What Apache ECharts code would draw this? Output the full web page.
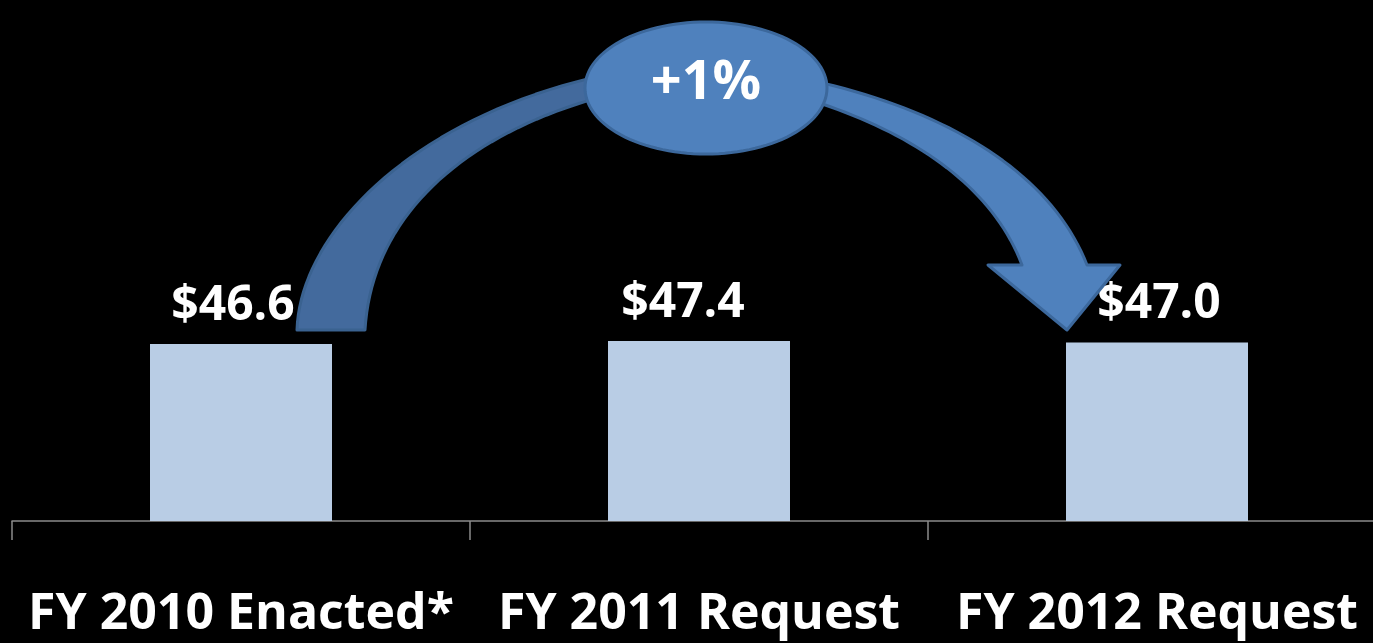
<!DOCTYPE html>
<html>
<head>
<meta charset="utf-8">
<script src="https://cdn.jsdelivr.net/npm/echarts@6/dist/echarts.min.js"></script>
<style>
html, body { margin: 0; padding: 0; background: #000; }
#chart { width: 1373px; height: 643px; }
</style>
</head>
<body>
<div id="chart"></div>
<script>
// 预算数据（十亿美元）
const categories = ['FY 2010 Enacted*', 'FY 2011 Request', 'FY 2012 Request']
const values = [46.6, 47.4, 47.0]
const changeLabel = '+1%'

// 标签水平微调（原图中标签并非完全居中）
const labelShift = [-8, -16, 2]

// 三次贝塞尔采样
function bezier(p0, p1, p2, p3, n) {
    const pts = []
    for (let i = 0; i <= n; i++) {
        const t = i / n, u = 1 - t
        pts.push([
            u*u*u*p0[0] + 3*u*u*t*p1[0] + 3*u*t*t*p2[0] + t*t*t*p3[0],
            u*u*u*p0[1] + 3*u*u*t*p1[1] + 3*u*t*t*p2[1] + t*t*t*p3[1]
        ])
    }
    return pts
}
function ellipsePts(cx, cy, rx, ry, n) {
    const pts = []
    for (let i = 0; i < n; i++) {
        const a = 2 * Math.PI * i / n
        pts.push([cx + rx * Math.cos(a), cy + ry * Math.sin(a)])
    }
    return pts
}

// 左半段弧形
const leftArc = bezier([297, 330], [300, 230], [420, 110], [620, 72], 40)
    .concat(bezier([620, 92], [470, 128], [372, 212], [365, 330], 40))
// 右半段箭头
const rightArc = bezier([790, 76], [940, 105], [1050, 170], [1087, 265], 40)
    .concat([[1120, 265], [1067, 330], [988, 265]])
    .concat(bezier([1022, 265], [990, 180], [900, 125], [790, 94], 40))

const chart = echarts.init(document.getElementById('chart'))

const option = {
    backgroundColor: '#000',
    animation: false,
    grid: {
        left: 12,
        right: -13,
        top: 141,
        bottom: 122,
        containLabel: false,
        outerBoundsMode: 'none'
    },
    xAxis: {
        type: 'category',
        data: categories,
        axisLine: { show: true, lineStyle: { color: '#8a8a8a', width: 1.5 } },
        axisTick: { show: true, length: 19, lineStyle: { color: '#8a8a8a', width: 1.5 } },
        axisLabel: {
            color: '#fff',
            fontFamily: 'Open Sans',
            fontWeight: 'bold',
            fontSize: 50,
            lineHeight: 50,
            margin: 69,
            interval: 0
        }
    },
    yAxis: {
        type: 'value',
        min: 0,
        max: 100,
        show: false
    },
    series: [{
        type: 'bar',
        data: values.map((v, i) => ({ value: v, label: { offset: [labelShift[i], 0] } })),
        barWidth: 182,
        itemStyle: { color: '#b9cde5' },
        label: {
            show: true,
            position: 'top',
            distance: 14,
            color: '#fff',
            fontFamily: 'Open Sans',
            fontWeight: 'bold',
            fontSize: 48,
            lineHeight: 48,
            formatter: p => '$' + p.value.toFixed(1)
        }
    }],
    graphic: [
        {
            type: 'polygon',
            z: 10,
            shape: { points: leftArc },
            style: { fill: '#436a9d', stroke: '#3a6290', lineWidth: 3, lineJoin: 'round' }
        },
        {
            type: 'polygon',
            z: 10,
            shape: { points: rightArc },
            style: { fill: '#4f81bd', stroke: '#3c689c', lineWidth: 3, lineJoin: 'round' }
        },
        { // 中间椭圆
            type: 'polygon',
            z: 11,
            shape: { points: ellipsePts(706, 88, 121, 66, 120) },
            style: { fill: '#4f81bd', stroke: '#3c689c', lineWidth: 3 }
        },
        {
            type: 'text',
            z: 12,
            x: 706,
            y: 84,
            style: {
                text: changeLabel,
                fill: '#fff',
                font: 'bold 54px "Open Sans"',
                align: 'center',
                verticalAlign: 'middle'
            }
        }
    ]
}

chart.setOption(option)
</script>
</body>
</html>
